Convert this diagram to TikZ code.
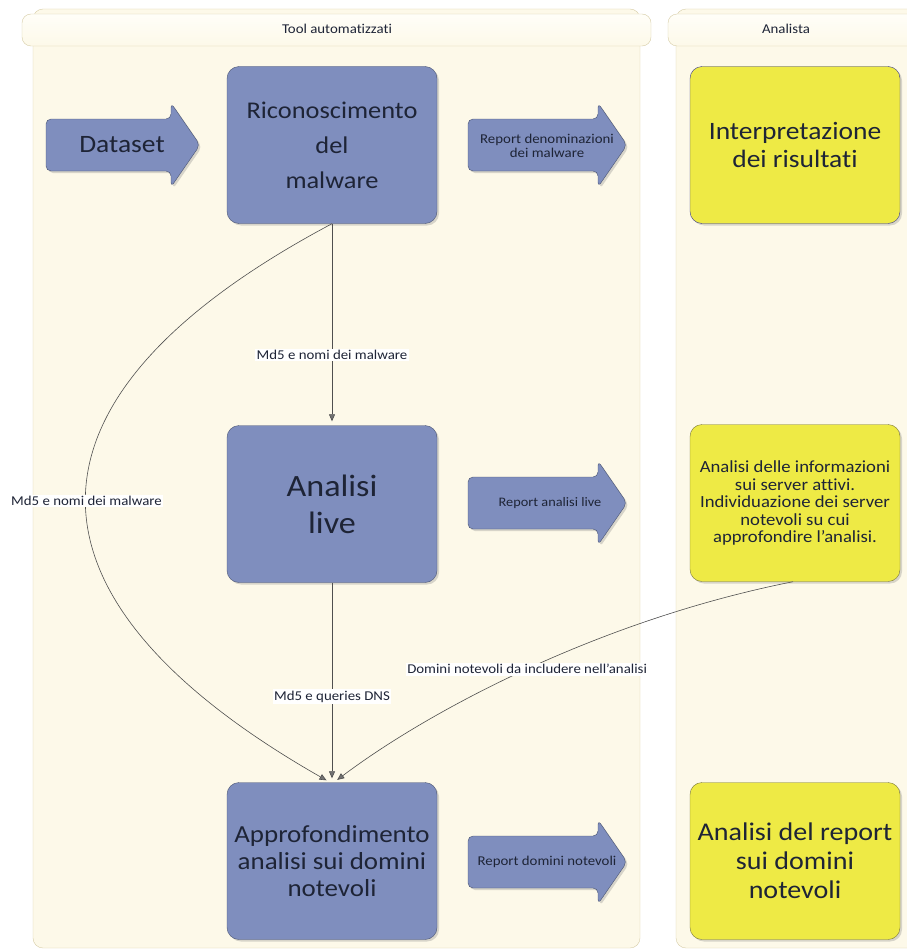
\documentclass[tikz,border=0pt]{standalone}
\usepackage{fontspec}
\setmainfont{Carlito}[FakeStretch=1.1, Ligatures=NoCommon]
\usetikzlibrary{arrows.meta, shadows}

\definecolor{lanefill}{HTML}{FDF9E9}
\definecolor{laneedge}{HTML}{D6CCA6}
\definecolor{headtop}{HTML}{FFFEF8}
\definecolor{boxblue}{HTML}{7F8EBE}
\definecolor{boxedge}{HTML}{4B5573}
\definecolor{boxyellow}{HTML}{EEEA45}
\definecolor{yedge}{HTML}{77743A}
\definecolor{iedge}{HTML}{34348C}
\definecolor{textdark}{HTML}{1E2436}
\definecolor{connline}{HTML}{4F4F4F}

\tikzset{
  bluebox/.style={draw=boxedge, fill=boxblue, rounded corners=12pt,
    minimum width=210pt, minimum height=157pt, align=center, text=textdark,
    drop shadow={opacity=0.3, shadow xshift=2pt, shadow yshift=-2pt}},
  yellowbox/.style={bluebox, draw=yedge, fill=boxyellow},
  arrowshape/.style={draw=boxedge, fill=boxblue, rounded corners=5pt,
    drop shadow={opacity=0.3, shadow xshift=2pt, shadow yshift=-2pt}},
  arrowtext/.style={align=center, text=textdark, font=\fontsize{13.5}{14.5}\selectfont},
  lanebody/.style={draw=laneedge, fill=lanefill, rounded corners=10pt},
  lanehead/.style={draw=laneedge, top color=headtop, bottom color=lanefill, rounded corners=9pt},
  conn/.style={draw=connline, line width=0.6pt, shorten >=4pt,
    -{Triangle[length=7pt,width=6pt,fill=connline!80]}},
  lbl/.style={fill=white, inner sep=1.5pt, text=textdark, font=\fontsize{13.5}{15}\selectfont}
}

% left x, tip x, centre y
\newcommand{\blockarrow}[3]{%
  \path[arrowshape] (#1,#3-26) -- (#2-29,#3-26) -- (#2-29,#3-42) -- (#2,#3)
    -- (#2-29,#3+42) -- (#2-29,#3+26) -- (#1,#3+26) -- cycle;}

\begin{document}
\begin{tikzpicture}[x=1pt, y=-1pt]
  \useasboundingbox (0,0) rectangle (907,950);
  \clip (0,0) rectangle (907,950);

  % lanes
  \path[lanebody] (33,9) rectangle (640,948);
  \path[lanehead] (22,14) rectangle (651,46);
  \node[text=textdark, font=\fontsize{13.5}{15}\selectfont] (toolhead) at (337,29) {Tool automatizzati};
  \path[lanebody] (676,9) rectangle (940,948);
  \path[lanehead] (668,14) rectangle (950,46);
  \node[text=textdark, font=\fontsize{13.5}{15}\selectfont] (anhead) at (786,29) {Analista};

  % tool automatizzati
  \node[bluebox, font=\fontsize{24}{35}\selectfont] (ricon) at (332,145) {Riconoscimento\\del\\malware};
  \node[bluebox, font=\fontsize{31}{37}\selectfont] (live) at (332,504) {Analisi\\live};
  \node[bluebox, font=\fontsize{24.5}{27}\selectfont] (appr) at (332,861) {Approfondimento\\analisi sui domini\\notevoli};

  \blockarrow{46}{200}{145}
  \node[arrowtext, font=\fontsize{25}{27}\selectfont] (dataset) at (122,145) {Dataset};
  \blockarrow{468}{627}{145}
  \node[arrowtext] (repmal) at (547,146) {Report denominazioni\\dei malware};
  \blockarrow{468}{627}{503}
  \node[arrowtext, font=\fontsize{13}{14}\selectfont] (replive) at (550,503) {Report analisi live};
  \blockarrow{468}{627}{862}
  \node[arrowtext] (repdom) at (547,862) {Report domini notevoli};

  % analista
  \node[yellowbox, draw=iedge, font=\fontsize{25}{28}\selectfont] (interp) at (795,145) {Interpretazione\\dei risultati};
  \node[yellowbox, font=\fontsize{17}{17.5}\selectfont] (info) at (795,503) {Analisi delle informazioni\\sui server attivi.\\Individuazione dei server\\notevoli su cui\\approfondire l'analisi.};
  \node[yellowbox, font=\fontsize{25.5}{29}\selectfont] (repan) at (795,861) {Analisi del report\\sui domini\\notevoli};

  % flussi
  \draw[conn] (ricon.south) -- node[lbl, pos=0.65] {Md5 e nomi dei malware} (live.north);
  \draw[conn] (live.south) -- node[lbl, pos=0.57] {Md5 e queries DNS} (appr.north);
  \draw[conn] (ricon.south) .. controls (0,400) and (10,600) .. node[lbl] {Md5 e nomi dei malware} ([xshift=-2pt]appr.north);
  \draw[conn] ([xshift=-2pt]info.south) .. controls (600,620) and (430,710) .. node[lbl] {Domini notevoli da includere nell'analisi} ([xshift=2pt]appr.north);
\end{tikzpicture}
\end{document}
